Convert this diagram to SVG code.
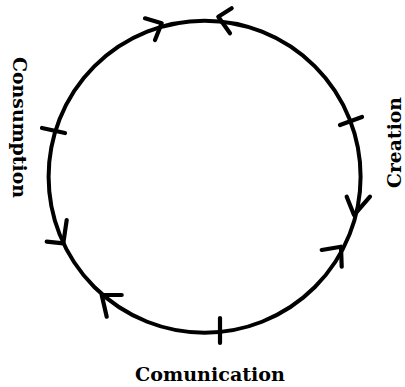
<svg xmlns="http://www.w3.org/2000/svg" width="405" height="387" viewBox="0 0 405 387">
  <style>
    .ring { fill: none; stroke: #000; stroke-width: 4; }
    .mark { fill: none; stroke: #000; stroke-width: 4.2; stroke-linecap: round; stroke-linejoin: round; }
    .lbl { font-family: "DejaVu Serif", "Liberation Serif", serif; font-weight: bold; font-size: 19.4px; fill: #000; text-anchor: middle; }
  </style>
  <rect width="405" height="387" fill="#ffffff"/>
  <g id="connectors">
    <circle class="ring" cx="204.6" cy="176.7" r="156"/>
    <!-- ticks -->
    <line class="mark" x1="42" y1="128" x2="65" y2="133"/>
    <line class="mark" x1="340" y1="125" x2="362" y2="117"/>
    <line class="mark" x1="220" y1="318" x2="220" y2="343"/>
    <!-- arrowheads -->
    <polyline class="mark" points="145,18.3 161.7,23.3 155,40"/>
    <polyline class="mark" points="231.7,8.3 218.3,16.7 230,33.3"/>
    <polyline class="mark" points="346.7,196.7 354,215 370,196.7"/>
    <polyline class="mark" points="321.7,250 341,246.7 341.7,266.7"/>
    <polyline class="mark" points="121.7,295 101.7,295 106.7,316.7"/>
    <polyline class="mark" points="46.7,241.7 63.3,243.3 66.7,220"/>
  </g>
  <g id="consumption">
    <text class="lbl" transform="translate(12.5,127.5) rotate(90)" textLength="141" lengthAdjust="spacingAndGlyphs">Consumption</text>
  </g>
  <g id="creation">
    <text class="lbl" transform="translate(400.5,142.5) rotate(-90)" textLength="91" lengthAdjust="spacingAndGlyphs">Creation</text>
  </g>
  <g id="comunication">
    <text class="lbl" x="210" y="381" textLength="150" lengthAdjust="spacingAndGlyphs">Comunication</text>
  </g>
</svg>
